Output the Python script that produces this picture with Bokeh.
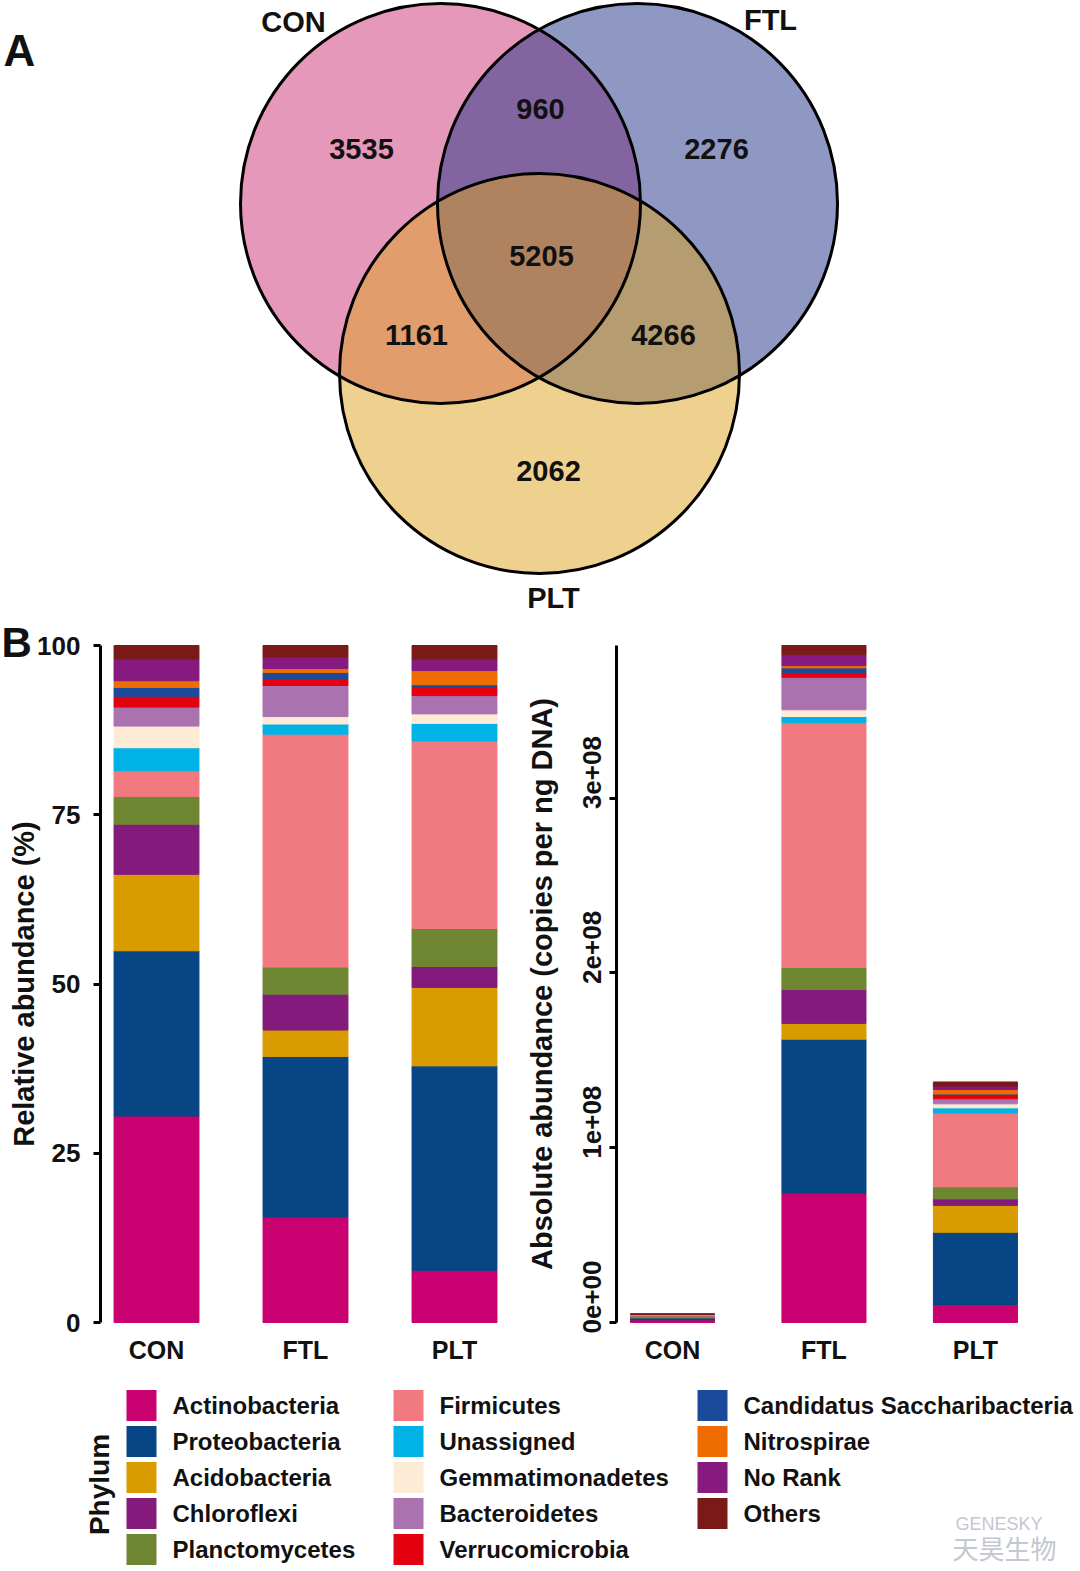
import math
from bokeh.plotting import figure
from bokeh.models import ColumnDataSource, Range1d, FixedTicker, CustomJSTickFormatter
from bokeh.layouts import column, row
from bokeh.embed import file_html
from bokeh.resources import INLINE
from bokeh.core.properties import value

FONT = "Liberation Sans"

# ---------------- data ----------------
groups = ["CON", "FTL", "PLT"]

phyla = ["Actinobacteria", "Proteobacteria", "Acidobacteria", "Chloroflexi",
         "Planctomycetes", "Firmicutes", "Unassigned", "Gemmatimonadetes",
         "Bacteroidetes", "Verrucomicrobia", "Candidatus Saccharibacteria",
         "Nitrospirae", "No Rank", "Others"]

phyla_colors = ["#C9006F", "#084584", "#D99C00", "#841B7C", "#6E8532", "#F07A80",
                "#00B2E6", "#FEEBD6", "#AA73B0", "#E3000F", "#1C4A9A", "#EE6C00",
                "#861A7E", "#7A1A18"]

# relative abundance (%)
rel_CON = [30.5, 24.4, 11.3, 7.4, 4.1, 3.8, 3.4, 3.2, 2.8, 1.6, 1.3, 1.0, 3.2, 2.0]
rel_FTL = [15.6, 23.7, 3.9, 5.3, 4.0, 34.4, 1.5, 1.1, 4.6, 1.0, 0.9, 0.6, 1.7, 1.7]
rel_PLT = [7.7, 30.2, 11.6, 3.1, 5.6, 27.7, 2.6, 1.4, 2.7, 1.2, 0.4, 2.1, 1.7, 2.0]

# absolute abundance (millions of copies per ng DNA)
abs_CON = [1.5, 1.2, 0.55, 0.36, 0.2, 0.19, 0.17, 0.16, 0.14, 0.08, 0.06, 0.05, 0.16, 0.1]
abs_FTL = [74.1, 88.0, 9.0, 19.4, 12.6, 140.0, 3.6, 3.8, 18.6, 2.6, 2.8, 1.3, 6.3, 5.2]
abs_PLT = [10.3, 41.3, 15.4, 3.7, 6.9, 42.3, 2.9, 2.3, 2.9, 1.9, 0.8, 2.6, 2.0, 2.3]

rel_ticks = [0, 25, 50, 75, 100]
abs_ticks = [0, 1e8, 2e8, 3e8]

# Venn diagram
venn_sets = ["CON", "FTL", "PLT"]
venn_colors = ["#CB3173", "#1F3187", "#DDA11F"]
venn_regions = ["CON", "FTL", "PLT", "CON&FTL", "CON&PLT", "FTL&PLT", "CON&FTL&PLT"]
venn_counts = [3535, 2276, 2062, 960, 1161, 4266, 5205]

# ---------------- layout constants (pixel space) ----------------
venn_cx = [440, 637, 539]
venn_cy = [203, 203, 373]
venn_r = 200
set_label_pos = [(293, 21), (770, 19), (553, 597)]
region_pos = [(361, 148), (716, 148), (548, 470), (540, 108), (416, 334), (663, 334), (541, 255)]

# ---------------- Venn figure ----------------
venn = figure(width=1080, height=612, x_range=Range1d(0, 1080),
              y_range=Range1d(612, 0), toolbar_location=None,
              output_backend="svg", min_border=0, x_axis_type=None, y_axis_type=None,
              outline_line_color=None)
venn.xgrid.visible = False
venn.ygrid.visible = False
venn.circle(x=venn_cx, y=venn_cy, radius=venn_r, fill_color=venn_colors,
            fill_alpha=0.5, line_color=None)
venn.circle(x=venn_cx, y=venn_cy, radius=venn_r, fill_color=None,
            line_color="black", line_width=3)
venn.text(x=[p[0] for p in region_pos], y=[p[1] for p in region_pos],
          text=[str(c) for c in venn_counts], text_font=value(FONT),
          text_font_style="bold", text_font_size="29px", text_align="center",
          text_baseline="middle", text_color="#111111")
venn.text(x=[p[0] for p in set_label_pos], y=[p[1] for p in set_label_pos],
          text=venn_sets, text_font=value(FONT), text_font_style="bold",
          text_font_size="29px", text_align="center", text_baseline="middle",
          text_color="#111111")
venn.text(x=[3], y=[50], text=["A"], text_font=value(FONT), text_font_style="bold",
          text_font_size="44px", text_align="left", text_baseline="alphabetic",
          text_color="#111111")

# ---------------- bar charts ----------------
FIG_TOP, FRAME_BOTTOM, ZERO_Y, FULL_Y = 612, 1334, 1322, 645   # page pixels
BAR_H = 758
PLOT_PX = ZERO_Y - FULL_Y          # pixels from 0 to the maximum value


def style_common(p):
    p.xgrid.visible = False
    p.ygrid.visible = False
    p.outline_line_color = None
    p.background_fill_color = "white"
    xa = p.xaxis[0]
    xa.ticker = FixedTicker(ticks=[1, 2, 3])
    xa.formatter = CustomJSTickFormatter(args=dict(names=groups),
                                         code="return names[Math.round(tick) - 1] || '';")
    xa.axis_line_color = None
    xa.major_tick_line_color = None
    xa.major_tick_out = 0
    xa.major_tick_in = 0
    xa.minor_tick_line_color = None
    xa.major_label_standoff = 1
    xa.major_label_text_font = FONT
    xa.major_label_text_font_style = "bold"
    xa.major_label_text_font_size = "25px"
    xa.major_label_text_color = "#111111"
    ya = p.yaxis[0]
    ya.axis_line_width = 3
    ya.axis_line_color = "black"
    ya.major_tick_line_width = 3
    ya.major_tick_out = 7
    ya.major_tick_in = 0
    ya.minor_tick_line_color = None
    ya.major_label_text_font = FONT
    ya.major_label_text_font_style = "bold"
    ya.major_label_text_font_size = "26px"
    ya.major_label_text_color = "#111111"
    ya.axis_label_text_font = FONT
    ya.axis_label_text_font_style = "bold"
    ya.axis_label_text_font_size = "29px"
    ya.axis_label_text_color = "#111111"


def yrange_for(vmax):
    u = vmax / PLOT_PX
    return Range1d(-(FRAME_BOTTOM - ZERO_Y) * u, (ZERO_Y - FIG_TOP) * u), u


src_rel = {"x": [1, 2, 3]}
src_abs = {"x": [1, 2, 3]}
for i, ph in enumerate(phyla):
    src_rel[ph] = [rel_CON[i], rel_FTL[i], rel_PLT[i]]
    src_abs[ph] = [abs_CON[i] * 1e6, abs_FTL[i] * 1e6, abs_PLT[i] * 1e6]

# left panel (page x 0..520); y axis pinned at page x 100
ppu1 = 149.0
xs1 = 1 - 156 / ppu1
yr1, u1 = yrange_for(100)
p1 = figure(width=520, height=BAR_H, x_range=Range1d(xs1, xs1 + 520 / ppu1), y_range=yr1,
            toolbar_location=None, output_backend="svg",
            min_border_left=0, min_border_right=0, min_border_top=0,
            min_border_bottom=BAR_H - (FRAME_BOTTOM - FIG_TOP))
p1.vbar_stack(phyla, x="x", width=0.57, color=phyla_colors,
              source=ColumnDataSource(src_rel))
style_common(p1)
ya1 = p1.yaxis[0]
ya1.ticker = FixedTicker(ticks=rel_ticks)
ya1.fixed_location = xs1 + 100 / ppu1
ya1.bounds = (0, 100)
ya1.major_label_standoff = 13
ya1.axis_label = "Relative abundance (%)"
ya1.axis_label_standoff = -6
p1.text(x=[xs1 + 1 / ppu1], y=[(ZERO_Y - 642) * u1], text=["B"],
        text_font=value(FONT), text_font_style="bold", text_font_size="42px",
        text_align="left", text_baseline="alphabetic", text_color="#111111")

# right panel (page x 520..1080); y axis pinned at page x 616
totals_abs = [sum(v) * 1e6 for v in (abs_CON, abs_FTL, abs_PLT)]
ppu2 = 151.46
xs2 = 1 - (672 - 520) / ppu2
yr2, u2 = yrange_for(max(totals_abs))
p2 = figure(width=560, height=BAR_H, x_range=Range1d(xs2, xs2 + 560 / ppu2), y_range=yr2,
            toolbar_location=None, output_backend="svg",
            min_border_left=0, min_border_right=0, min_border_top=0,
            min_border_bottom=BAR_H - (FRAME_BOTTOM - FIG_TOP))
p2.vbar_stack(phyla, x="x", width=0.555, color=phyla_colors,
              source=ColumnDataSource(src_abs))
style_common(p2)
ya2 = p2.yaxis[0]
ya2.ticker = FixedTicker(ticks=abs_ticks)
ya2.fixed_location = xs2 + 96 / ppu2
ya2.bounds = (0, max(totals_abs))
ya2.formatter = CustomJSTickFormatter(code="return '';")
ya2.major_label_standoff = 0
ya2.axis_label = "Absolute abundance (copies per ng DNA)"
ya2.axis_label_standoff = 52
# rotated tick labels, set slightly above their ticks as in the original
p2.text(x=[xs2 + (591 - 520) / ppu2] * len(abs_ticks),
        y=[t + 25.5 * u2 for t in abs_ticks],
        text=[f"{t:.0e}" for t in abs_ticks], angle=math.pi / 2,
        text_font=value(FONT), text_font_style="bold", text_font_size="26px",
        text_align="center", text_baseline="middle", text_color="#111111")

# ---------------- legend figure ----------------
leg = figure(width=1080, height=200, x_range=Range1d(0, 1080), y_range=Range1d(1570, 1370),
             toolbar_location=None, output_backend="svg", min_border=0,
             x_axis_type=None, y_axis_type=None, outline_line_color=None)
leg.xgrid.visible = False
leg.ygrid.visible = False
col_key_x = [141, 408, 712]
col_text_x = [172, 439, 743]
row_y0, row_dy, nrows = 1405, 36, 5
kx, ky, tx = [], [], []
for i, ph in enumerate(phyla):
    c, r = divmod(i, nrows)
    kx.append(col_key_x[c])
    ky.append(row_y0 + r * row_dy)
    tx.append(col_text_x[c])
leg.rect(x=kx, y=ky, width=30, height=31, fill_color=phyla_colors, line_color=None)
leg.text(x=tx, y=ky, text=phyla, text_font=value(FONT), text_font_style="bold",
         text_font_size="24px", text_align="left", text_baseline="middle",
         text_color="#111111")
leg.text(x=[99], y=[1484], text=["Phylum"], angle=math.pi / 2, text_font=value(FONT),
         text_font_style="bold", text_font_size="28px", text_align="center",
         text_baseline="middle", text_color="#111111")
# watermark
leg.text(x=[955], y=[1523], text=["GENESKY"], text_font=value(FONT),
         text_font_size="18px", text_align="left", text_baseline="middle",
         text_color="#C3C7D0")
leg.text(x=[952], y=[1547], text=["天昊生物"], text_font=value("Noto Sans CJK SC"),
         text_font_size="26px", text_align="left", text_baseline="middle",
         text_color="#C3C7D0")

layout = column(venn, row(p1, p2, spacing=0), leg, spacing=0)
open("out.html", "w").write(file_html(layout, INLINE))
